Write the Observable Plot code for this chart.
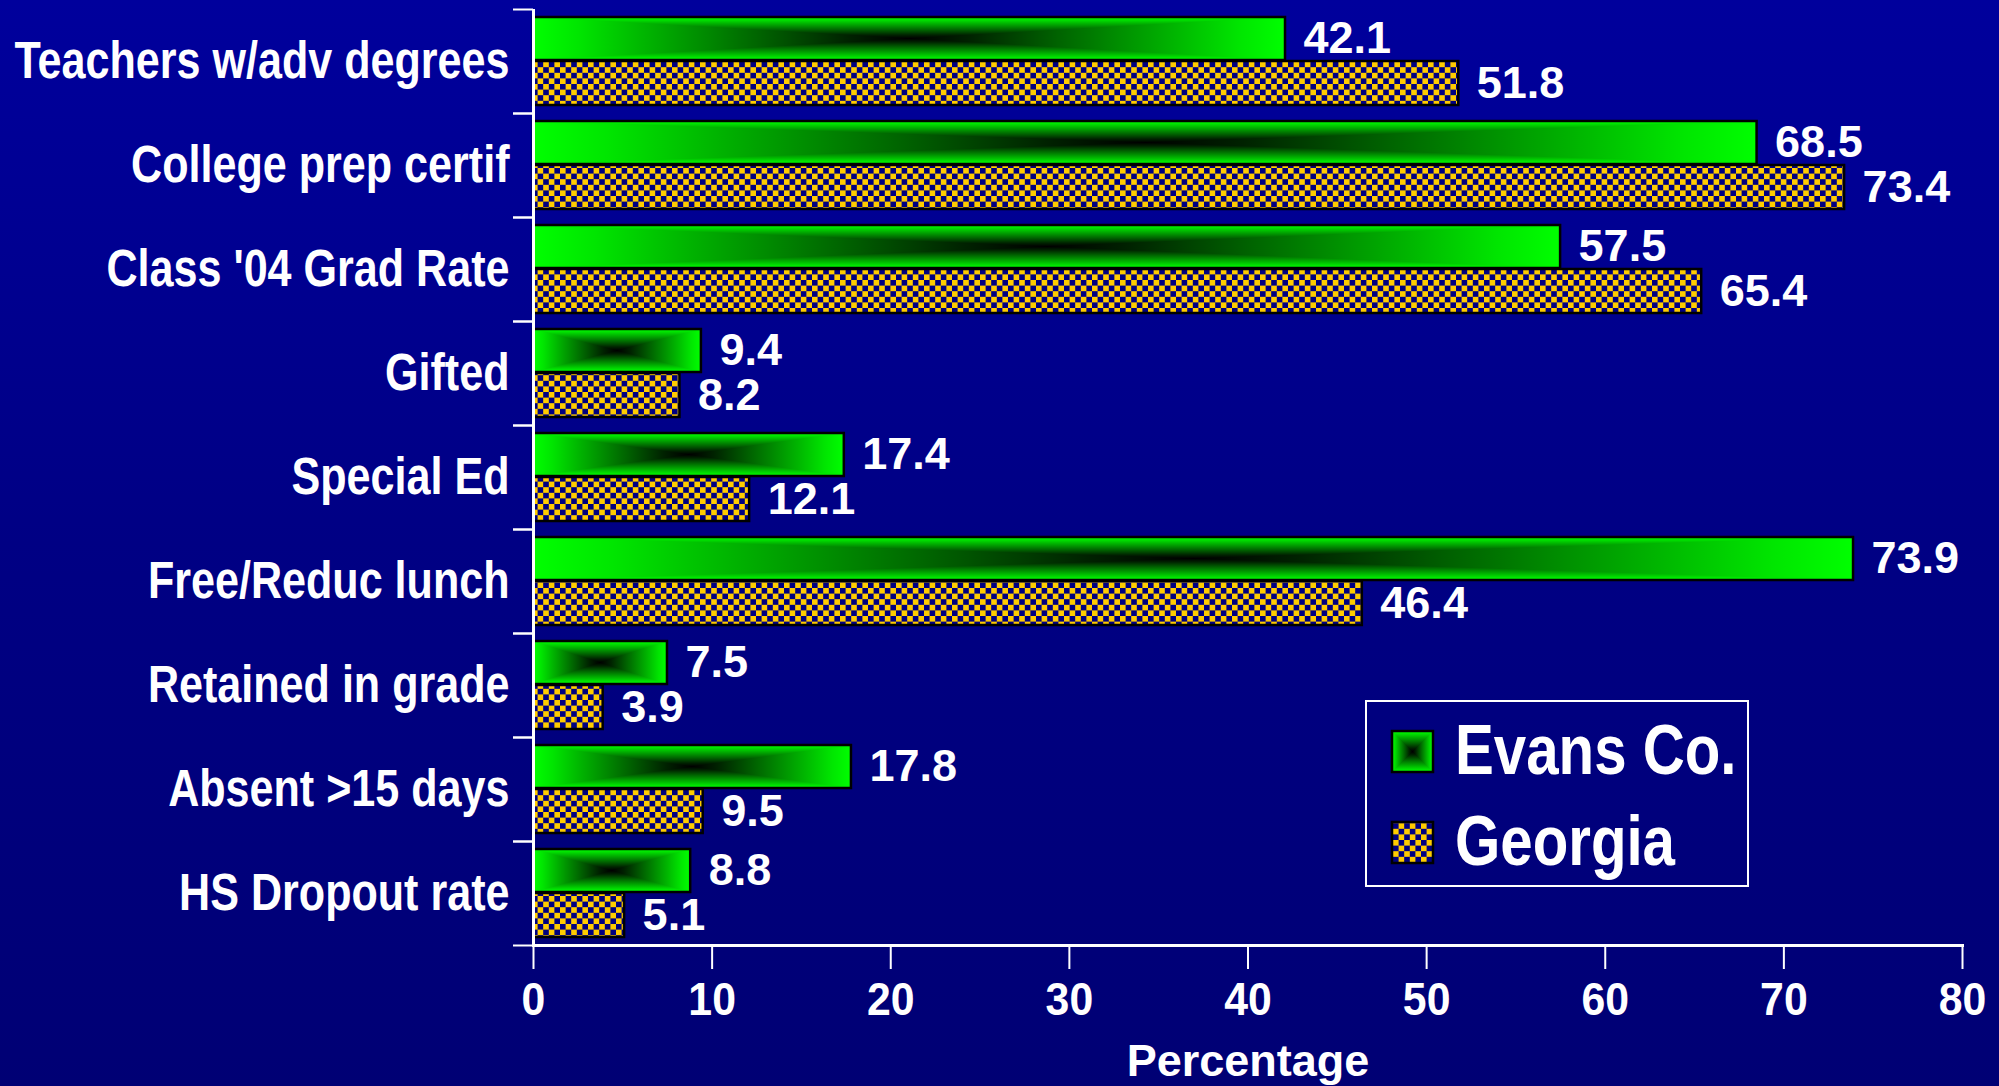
<!DOCTYPE html>
<html><head><meta charset="utf-8">
<script src="https://cdn.jsdelivr.net/npm/d3@7"></script>
<script src="https://cdn.jsdelivr.net/npm/@observablehq/plot@0.6"></script>
<style>
html,body{margin:0;padding:0;}
body{width:1999px;height:1086px;overflow:hidden;background:linear-gradient(to bottom,#00009c 0%,#000084 50%,#000074 100%);font-family:"Liberation Sans",Arial,Helvetica,sans-serif;}
#wrap{position:relative;width:1999px;height:1086px;}
#wrap svg{display:block;}
#legend{position:absolute;left:1365px;top:700px;}
</style></head><body><div id="wrap"></div>
<script>
const categories = ["Teachers w/adv degrees","College prep certif","Class '04 Grad Rate","Gifted","Special Ed","Free/Reduc lunch","Retained in grade","Absent >15 days","HS Dropout rate"];
const evansValues = [42.1, 68.5, 57.5, 9.4, 17.4, 73.9, 7.5, 17.8, 8.8];
const georgiaValues = [51.8, 73.4, 65.4, 8.2, 12.1, 46.4, 3.9, 9.5, 5.1];
const seriesNames = ["Evans Co.", "Georgia"];
const xTicks = [0, 10, 20, 30, 40, 50, 60, 70, 80];
const axisTitle = "Percentage";

const evansRows = categories.map((c, i) => ({category: c, series: seriesNames[0], value: evansValues[i]}));
const georgiaRows = categories.map((c, i) => ({category: c, series: seriesNames[1], value: georgiaValues[i]}));

const FONT = '"Liberation Sans", Arial, Helvetica, sans-serif';

const plot = Plot.plot({
  width: 1999, height: 1086,
  marginLeft: 533, marginRight: 37, marginTop: 9, marginBottom: 141,
  style: {background: "transparent", color: "white", fontFamily: FONT, fontWeight: "bold", overflow: "visible"},
  x: {domain: [0, 80]},
  y: {domain: categories, padding: 0},
  marks: [
    Plot.barX(evansRows, {y: "category", x: "value", fill: "url(#evansFill)", stroke: "black", strokeWidth: 2.5, insetTop: 8, insetBottom: 53}),
    Plot.barX(georgiaRows, {y: "category", x: "value", fill: "url(#georgiaFill)", stroke: "black", strokeWidth: 2.5, insetTop: 52, insetBottom: 8}),
    Plot.text(evansRows, {y: "category", x: "value", text: d => d.value.toFixed(1), textAnchor: "start", dx: 18, dy: -22.5, fontSize: 45, fontWeight: "bold", fill: "white"}),
    Plot.text(georgiaRows, {y: "category", x: "value", text: d => d.value.toFixed(1), textAnchor: "start", dx: 18, dy: 22, fontSize: 45, fontWeight: "bold", fill: "white"}),
    Plot.ruleX([0], {stroke: "white", strokeWidth: 3}),
    Plot.frame({anchor: "bottom", stroke: "white", strokeWidth: 3}),
    Plot.axisY({tickSize: 0, tickPadding: 24, fontSize: 51, fontWeight: "bold", label: null}),
    Plot.axisY({tickSize: 20, tickFormat: () => "", dy: -52, stroke: "white", strokeWidth: 2, label: null}),
    Plot.axisY({tickSize: 20, tickFormat: () => "", dy: 52, stroke: "white", strokeWidth: 2, label: null}),
    Plot.axisX({ticks: xTicks, tickSize: 24, tickPadding: 13, fontSize: 46, fontWeight: "bold", stroke: "white", strokeWidth: 2, label: null}),
    Plot.text([axisTitle], {text: d => d, frameAnchor: "bottom", dy: 130, fontSize: 45, fontWeight: "bold", fill: "white"})
  ]
});

// paint definitions (rectangular "from centre" gradient + checkerboard)
function addDefs(svgNode) {
  const svg = d3.select(svgNode);
  const defs = svg.insert("defs", ":first-child");
  const stops = [[0, "#00ff00"], [0.06, "#00e600"], [0.15, "#00b400"], [0.3, "#006400"], [0.42, "#002200"], [0.5, "#000000"], [0.58, "#002200"], [0.7, "#006400"], [0.85, "#00b400"], [0.94, "#00e600"], [1, "#00ff00"]];
  const gh = defs.append("linearGradient").attr("id", "gH").attr("x1", 0).attr("y1", 0).attr("x2", 1).attr("y2", 0);
  const gv = defs.append("linearGradient").attr("id", "gV").attr("x1", 0).attr("y1", 0).attr("x2", 0).attr("y2", 1);
  for (const g of [gh, gv]) for (const [o, c] of stops) g.append("stop").attr("offset", o).attr("stop-color", c);
  const p = defs.append("pattern").attr("id", "evansFill").attr("patternUnits", "objectBoundingBox")
    .attr("patternContentUnits", "objectBoundingBox").attr("x", 0).attr("y", 0).attr("width", 1).attr("height", 1);
  p.append("rect").attr("width", 1).attr("height", 1).attr("fill", "url(#gH)");
  p.append("rect").attr("width", 1).attr("height", 1).attr("fill", "url(#gV)").style("mix-blend-mode", "lighten");
  const c = 5.6;
  const q = defs.append("pattern").attr("id", "georgiaFill").attr("patternUnits", "userSpaceOnUse")
    .attr("x", 0).attr("y", 0).attr("width", 2 * c).attr("height", 2 * c);
  q.append("rect").attr("width", 2 * c).attr("height", 2 * c).attr("fill", "#000080");
  q.append("rect").attr("width", c).attr("height", c).attr("fill", "#ffcc00");
  q.append("rect").attr("x", c).attr("y", c).attr("width", c).attr("height", c).attr("fill", "#ffcc00");
}
addDefs(plot);

const wrap = document.getElementById("wrap");
wrap.appendChild(plot);

// legend
const lg = d3.create("svg").attr("id", "legend").attr("width", 386).attr("height", 190)
  .style("font-family", FONT).style("font-weight", "bold");
lg.append("rect").attr("x", 1).attr("y", 1).attr("width", 382).attr("height", 185).attr("fill", "none").attr("stroke", "white").attr("stroke-width", 2);
const fills = ["url(#evansFill)", "url(#georgiaFill)"];
seriesNames.forEach((name, i) => {
  const y0 = 31 + i * 91;
  lg.append("rect").attr("x", 27).attr("y", y0).attr("width", 41).attr("height", 41).attr("fill", fills[i]).attr("stroke", "black").attr("stroke-width", 2.5);
  lg.append("text").attr("class", "lgtext").attr("x", 90).attr("y", y0 + 43).attr("fill", "white").attr("font-size", 71).text(name);
});
wrap.appendChild(lg.node());

// horizontal compression of condensed text
function squeeze(nodes, k) {
  for (const t of nodes) {
    const L = t.getComputedTextLength();
    if (L > 0) { t.setAttribute("textLength", L * k); t.setAttribute("lengthAdjust", "spacingAndGlyphs"); }
  }
}
squeeze(plot.querySelectorAll('g[aria-label="y-axis tick label"] text'), 0.845);
squeeze(plot.querySelectorAll('g[aria-label="x-axis tick label"] text'), 0.93);
squeeze(document.querySelectorAll("#legend text.lgtext"), 0.82);
</script></body></html>
